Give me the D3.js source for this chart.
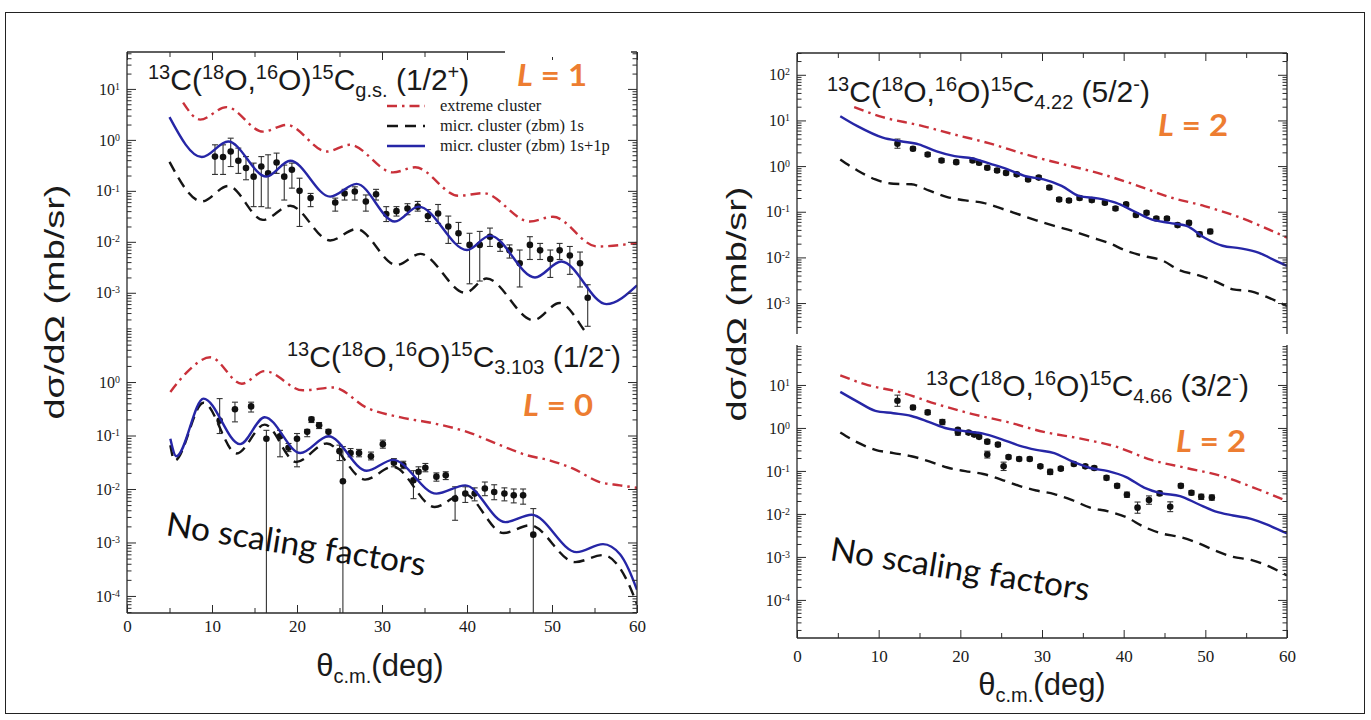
<!DOCTYPE html>
<html><head><meta charset="utf-8">
<script src="https://cdn.jsdelivr.net/npm/d3@7"></script>
<style>body{margin:0;background:#fff}svg{display:block}</style>
</head><body>
<svg id="c" width="1371" height="720"></svg>
<script>
// ---------- angular range and tick values ----------
const thetaDomain = [0, 60];
const thetaMajor = [0, 10, 20, 30, 40, 50, 60];
const thetaMinor = [5, 15, 25, 35, 45, 55];

// ---------- g.s. (1/2+), L = 1 ----------
const gsBlueT = [5.0, 8.8, 11.9, 16.4, 19.2, 23.9, 27.0, 31.5, 34.3, 40.0, 42.7, 48.0, 51.1, 56.4, 60];
const gsBlueV = [2.8, 0.46, 0.93, 0.19, 0.39, 0.077, 0.137, 0.025, 0.049, 0.0069, 0.0132, 0.0020, 0.0041, 0.0006, 0.0014];
const gsRedT = [6.6, 8.6, 11.7, 16.0, 18.8, 23.5, 26.2, 31.3, 33.9, 39.0, 41.9, 47.4, 50.1, 55.3, 60];
const gsRedV = [5.4, 2.5, 4.4, 1.45, 1.97, 0.59, 0.80, 0.23, 0.29, 0.080, 0.090, 0.025, 0.031, 0.0081, 0.0095];
const gsBlackT = [5.0, 8.8, 11.9, 16.0, 19.2, 23.9, 27.0, 31.7, 34.5, 39.8, 42.3, 47.8, 50.9, 54.8, 57, 60];
const gsBlackV = [0.37, 0.062, 0.125, 0.027, 0.051, 0.0106, 0.0178, 0.0035, 0.0058, 0.0010, 0.0019, 0.00029, 0.00063, 0.00012, 0.00008, 0.00015];
const gsPtT = [10.35, 11.3, 12.2, 13.1, 14.0, 14.9, 15.8, 16.6, 17.6, 18.5, 19.4, 20.3, 21.6, 24.5, 25.6, 26.8, 28.1, 29.3, 30.5, 31.7, 33.0, 34.2, 35.4, 36.6, 37.8, 39.0, 40.3, 41.5, 42.7, 43.9, 45.0, 46.2, 47.4, 48.6, 49.8, 50.9, 52.1, 53.3, 54.2];
const gsPtV = [0.47, 0.46, 0.59, 0.39, 0.28, 0.19, 0.30, 0.22, 0.36, 0.19, 0.26, 0.10, 0.072, 0.059, 0.089, 0.097, 0.062, 0.086, 0.035, 0.040, 0.045, 0.049, 0.032, 0.036, 0.020, 0.0147, 0.0087, 0.0087, 0.0126, 0.0087, 0.0068, 0.0038, 0.0087, 0.0068, 0.0046, 0.0068, 0.0054, 0.0038, 0.0008];
const gsPtHi = [0.80, 0.80, 1.08, 0.69, 0.47, 0.35, 0.47, 0.51, 0.55, 0.32, 0.35, 0.177, 0.089, 0.072, 0.107, 0.12, 0.083, 0.107, 0.049, 0.049, 0.056, 0.062, 0.043, 0.054, 0.032, 0.024, 0.0147, 0.016, 0.0186, 0.011, 0.0087, 0.0069, 0.0126, 0.0093, 0.0069, 0.0093, 0.0081, 0.0063, 0.00144];
const gsPtLo = [0.21, 0.21, 0.30, 0.22, 0.165, 0.049, 0.049, 0.046, 0.22, 0.066, 0.113, 0.020, 0.049, 0.040, 0.066, 0.066, 0.040, 0.066, 0.025, 0.032, 0.034, 0.040, 0.025, 0.023, 0.0093, 0.0093, 0.0015, 0.0017, 0.0081, 0.0065, 0.0048, 0.0013, 0.0045, 0.0045, 0.0020, 0.0045, 0.0023, 0.0013, 0.00022];

// ---------- 3.103 MeV (1/2-), L = 0 ----------
const s3BlueT = [5.1, 5.8, 9.0, 13.3, 16.2, 20.4, 23.7, 28.2, 31.3, 36.4, 39.8, 44.5, 47.6, 52.9, 56.0, 58.0, 59.0, 60];
const s3BlueV = [0.087, 0.041, 0.49, 0.069, 0.22, 0.047, 0.097, 0.022, 0.035, 0.0082, 0.0117, 0.0024, 0.0033, 0.00066, 0.00093, 0.00060, 0.00032, 0.00013];
const s3BlackT = [5.1, 5.6, 9.0, 12.9, 16.2, 19.9, 23.5, 28.0, 31.3, 36.2, 39.6, 44.3, 47.4, 52.7, 56.0, 58.0, 59.0, 60];
const s3BlackV = [0.066, 0.034, 0.41, 0.046, 0.16, 0.032, 0.071, 0.015, 0.026, 0.0046, 0.0082, 0.0015, 0.0021, 0.00043, 0.00058, 0.00033, 0.00017, 0.00007];
const s3RedT = [5.1, 7.0, 9.8, 13.5, 16.2, 20.7, 24.3, 28.2, 32.1, 36.0, 40.0, 43.9, 47.0, 49.8, 52.5, 55.6, 58.0, 60];
const s3RedV = [0.65, 1.5, 2.9, 0.93, 1.6, 0.70, 0.79, 0.33, 0.22, 0.17, 0.117, 0.066, 0.043, 0.034, 0.024, 0.0135, 0.0117, 0.0105];
const s3PtT = [10.9, 12.7, 14.6, 16.4, 18.0, 19.0, 20.0, 21.2, 21.7, 22.6, 23.7, 25.0, 25.4, 26.3, 27.3, 28.7, 30.1, 31.4, 32.5, 33.7, 34.3, 35.1, 36.4, 37.5, 38.6, 39.8, 40.9, 42.1, 43.2, 44.4, 45.5, 46.6, 47.8];
const s3PtV = [0.19, 0.31, 0.35, 0.087, 0.097, 0.059, 0.087, 0.117, 0.20, 0.155, 0.117, 0.051, 0.014, 0.047, 0.047, 0.041, 0.069, 0.031, 0.028, 0.0146, 0.021, 0.025, 0.017, 0.018, 0.0066, 0.0082, 0.0082, 0.0102, 0.0088, 0.0082, 0.0076, 0.0076, 0.0014];
const s3PtHi = [0.49, 0.42, 0.42, 0.125, 0.125, 0.071, 0.109, 0.13, 0.22, 0.175, 0.13, 0.066, 0.062, 0.057, 0.055, 0.049, 0.082, 0.037, 0.033, 0.022, 0.026, 0.030, 0.020, 0.021, 0.011, 0.011, 0.0105, 0.0135, 0.012, 0.0105, 0.010, 0.010, 0.0043];
const s3PtLo = [0.109, 0.18, 0.275, 1e-7, 0.040, 0.050, 0.026, 0.095, 0.175, 0.135, 0.095, 0.034, 1e-7, 0.040, 0.040, 0.035, 0.058, 0.026, 0.024, 0.0066, 0.015, 0.021, 0.014, 0.015, 0.0026, 0.0056, 0.0060, 0.0075, 0.0063, 0.0060, 0.0055, 0.0052, 1e-7];

// ---------- 4.22 MeV (5/2-), L = 2 ----------
const s4BlueT = [5.3, 7.4, 10.5, 12.7, 14.9, 17.1, 19.3, 21.5, 23.7, 25.8, 28.0, 30.2, 32.4, 34.6, 36.8, 39.0, 41.2, 43.4, 45.6, 47.7, 49.9, 52.1, 54.3, 56.5, 58.7, 60];
const s4BlueV = [12.4, 7.5, 4.2, 3.5, 3.0, 2.1, 1.65, 1.47, 1.12, 0.85, 0.60, 0.51, 0.37, 0.22, 0.196, 0.158, 0.104, 0.068, 0.057, 0.049, 0.027, 0.018, 0.0158, 0.0127, 0.0083, 0.0065];
const s4RedT = [7.0, 10.5, 14.9, 19.3, 23.7, 28.0, 32.4, 36.8, 41.2, 45.6, 49.9, 54.3, 60];
const s4RedV = [19.6, 11.8, 7.9, 4.9, 3.1, 1.8, 1.12, 0.71, 0.40, 0.21, 0.133, 0.074, 0.027];
const s4BlackT = [5.3, 7.4, 9.6, 11.8, 14.0, 16.2, 18.4, 20.6, 22.8, 25.0, 27.2, 29.3, 31.5, 33.7, 35.9, 38.1, 40.3, 42.5, 44.7, 46.9, 49.1, 51.2, 53.4, 55.6, 57.8, 60];
const s4BlackV = [1.40, 0.80, 0.51, 0.41, 0.40, 0.29, 0.21, 0.177, 0.157, 0.118, 0.087, 0.065, 0.049, 0.038, 0.028, 0.021, 0.014, 0.0107, 0.0086, 0.0052, 0.0041, 0.0030, 0.0020, 0.0018, 0.0013, 0.00086];
const s4PtT = [12.3, 14.2, 16.0, 17.7, 19.5, 21.5, 22.3, 23.3, 24.5, 25.6, 26.9, 28.3, 29.6, 30.9, 32.1, 33.3, 34.6, 36.1, 37.7, 39.0, 40.3, 41.5, 42.8, 44.0, 45.3, 46.6, 48.0, 49.3, 50.6];
const s4PtV = [3.1, 2.4, 1.8, 1.33, 1.22, 1.33, 1.18, 0.92, 0.80, 0.71, 0.66, 0.51, 0.56, 0.34, 0.186, 0.177, 0.20, 0.18, 0.158, 0.118, 0.145, 0.085, 0.095, 0.071, 0.071, 0.051, 0.057, 0.032, 0.037];
const s4PtErr = [1.26, 1.1, 1.1, 1.1, 1.1, 1.1, 1.1, 1.1, 1.1, 1.1, 1.1, 1.1, 1.1, 1.1, 1.1, 1.1, 1.1, 1.1, 1.1, 1.1, 1.1, 1.1, 1.1, 1.1, 1.1, 1.1, 1.1, 1.12, 1.12];

// ---------- 4.66 MeV (3/2-), L = 2 ----------
const s5BlueT = [5.3, 7.4, 9.6, 11.8, 14.0, 16.2, 18.4, 20.6, 22.8, 25.0, 27.2, 29.3, 31.5, 33.7, 35.9, 38.1, 40.3, 42.5, 44.7, 46.9, 49.1, 51.2, 53.4, 55.6, 57.8, 60];
const s5BlueV = [6.9, 4.1, 2.5, 2.2, 1.9, 1.37, 0.97, 0.84, 0.74, 0.55, 0.39, 0.31, 0.26, 0.166, 0.117, 0.099, 0.072, 0.041, 0.030, 0.026, 0.017, 0.0115, 0.0092, 0.0077, 0.0054, 0.0035];
const s5RedT = [5.3, 8.3, 12.7, 17.1, 21.5, 25.8, 30.2, 34.6, 39.0, 43.4, 47.7, 52.1, 56.5, 60];
const s5RedV = [16.7, 10.4, 6.7, 3.6, 2.1, 1.37, 0.81, 0.57, 0.37, 0.18, 0.117, 0.075, 0.037, 0.020];
const s5BlackT = [5.3, 7.4, 9.6, 11.8, 14.0, 16.2, 18.4, 20.6, 22.8, 25.0, 27.2, 29.3, 31.5, 33.7, 35.9, 38.1, 40.3, 42.5, 44.7, 46.9, 49.1, 51.2, 53.4, 55.6, 57.8, 60];
const s5BlackV = [0.78, 0.46, 0.31, 0.26, 0.22, 0.167, 0.12, 0.099, 0.085, 0.063, 0.045, 0.035, 0.029, 0.021, 0.014, 0.0115, 0.0084, 0.005, 0.0035, 0.0029, 0.0021, 0.0014, 0.0010, 0.00085, 0.0006, 0.00037];
const s5PtT = [12.3, 14.2, 16.0, 17.8, 19.7, 19.7, 21.0, 21.7, 22.3, 23.3, 23.3, 24.6, 25.3, 25.9, 27.2, 28.5, 29.8, 31.0, 32.3, 33.9, 35.3, 36.4, 37.9, 39.2, 40.4, 41.7, 43.1, 44.4, 45.7, 47.0, 48.3, 49.5, 50.8];
const s5PtV = [4.3, 3.0, 2.3, 1.37, 0.78, 0.90, 0.78, 0.70, 0.62, 0.48, 0.24, 0.41, 0.128, 0.21, 0.19, 0.19, 0.128, 0.095, 0.113, 0.145, 0.128, 0.117, 0.069, 0.045, 0.028, 0.014, 0.021, 0.030, 0.0147, 0.045, 0.031, 0.025, 0.024];
const s5PtErr = [1.35, 1.12, 1.12, 1.15, 1.15, 1.1, 1.1, 1.1, 1.1, 1.12, 1.2, 1.12, 1.25, 1.1, 1.1, 1.1, 1.1, 1.15, 1.1, 1.1, 1.1, 1.1, 1.12, 1.12, 1.15, 1.35, 1.25, 1.12, 1.3, 1.12, 1.12, 1.15, 1.15];

// legend entries
const legendLabels = ["extreme cluster", "micr. cluster (zbm) 1s", "micr. cluster (zbm) 1s+1p"];

// ---------- styles ----------
const C = {
  blue: "#2626a6", red: "#c9313a", black: "#151515", orange: "#ED7D31",
  axis: "#2a2a2a", text: "#1a1a1a"
};
const lineStyle = {
  red:   {stroke: C.red,   dash: "10,5,2.5,5", w: 2.4},
  black: {stroke: C.black, dash: "11,7",       w: 2.4},
  blue:  {stroke: C.blue,  dash: null,         w: 2.4}
};
const SANS = "'Liberation Sans', Arial, sans-serif";
const SERIF = "'Liberation Serif', 'Times New Roman', serif";
const CAL = "Lato, 'Open Sans', sans-serif";

const svg = d3.select("#c");
svg.append("rect").attr("x", 5.5).attr("y", 12.5).attr("width", 1359).attr("height", 701)
  .attr("fill", "#fff").attr("stroke", "#222").attr("stroke-width", 1);

// ---------- panel frames ----------
const panels = {
  gs: {x0: 127, x1: 637, y0: 52,  y1: 332, lo: 1.7e-4, hi: 53,  top: true,  bottom: false},
  s3: {x0: 127, x1: 637, y0: 331, y1: 613, lo: 4.8e-5, hi: 9,   top: false, bottom: true},
  s4: {x0: 797, x1: 1287, y0: 53, y1: 334, lo: 2.1e-4, hi: 300, top: true,  bottom: false},
  s5: {x0: 797, x1: 1287, y0: 345, y1: 638, lo: 1.3e-5, hi: 85, top: false, bottom: true}
};

function scalesFor(p) {
  return {
    xs: d3.scaleLinear().domain(thetaDomain).range([p.x0, p.x1]),
    ys: d3.scaleLog().domain([p.lo, p.hi]).range([p.y1, p.y0])
  };
}

function styleAxis(g, fontSize) {
  g.attr("font-family", SERIF).attr("font-size", fontSize).attr("color", C.axis);
  g.select(".domain").remove();
  g.selectAll(".tick line").attr("stroke-width", 1);
}

function drawAxes(key) {
  const p = panels[key];
  const {xs, ys} = scalesFor(p);
  const major = [], minor = [];
  for (let d = Math.floor(Math.log10(p.lo)); d <= Math.ceil(Math.log10(p.hi)); d++) {
    for (let m = 1; m <= 9; m++) {
      const v = m * Math.pow(10, d);
      if (v < p.lo || v > p.hi) continue;
      (m === 1 ? major : minor).push(v);
    }
  }
  // left axis: inward ticks, power-of-ten labels
  const gl = svg.append("g").attr("transform", `translate(${p.x0},0)`);
  gl.call(d3.axisLeft(ys).tickValues(minor).tickSize(-4.5).tickFormat(""));
  styleAxis(gl, 15);
  const glm = svg.append("g").attr("transform", `translate(${p.x0},0)`);
  glm.call(d3.axisLeft(ys).tickValues(major).tickSize(-9).tickPadding(7));
  styleAxis(glm, 16);
  glm.selectAll(".tick text").attr("fill", C.text).each(function (d) {
    const t = d3.select(this).text("");
    t.append("tspan").text("10");
    t.append("tspan").attr("dy", "-0.5em").attr("font-size", "0.62em").text(Math.round(Math.log10(d)));
  });
  // right axis: inward ticks, no labels
  const gr = svg.append("g").attr("transform", `translate(${p.x1},0)`);
  gr.call(d3.axisRight(ys).tickValues(minor).tickSize(-4.5).tickFormat(""));
  styleAxis(gr, 15);
  const grm = svg.append("g").attr("transform", `translate(${p.x1},0)`);
  grm.call(d3.axisRight(ys).tickValues(major).tickSize(-9).tickFormat(""));
  styleAxis(grm, 15);
  if (p.top) {
    const gt = svg.append("g").attr("transform", `translate(0,${p.y0})`);
    gt.call(d3.axisTop(xs).tickValues(thetaMajor).tickSize(-8).tickFormat(""));
    styleAxis(gt, 15);
    const gt2 = svg.append("g").attr("transform", `translate(0,${p.y0})`);
    gt2.call(d3.axisTop(xs).tickValues(thetaMinor).tickSize(-5).tickFormat(""));
    styleAxis(gt2, 15);
  }
  if (p.bottom) {
    const gb = svg.append("g").attr("transform", `translate(0,${p.y1})`);
    gb.call(d3.axisBottom(xs).tickValues(thetaMajor).tickSize(-8).tickPadding(key === "s5" ? 12 : 7).tickFormat(d3.format("d")));
    styleAxis(gb, 17);
    gb.selectAll(".tick text").attr("fill", C.text);
    const gb2 = svg.append("g").attr("transform", `translate(0,${p.y1})`);
    gb2.call(d3.axisBottom(xs).tickValues(thetaMinor).tickSize(-5).tickFormat(""));
    styleAxis(gb2, 15);
  }
}

function frameLines(x0, x1, y0, y1, top, bottom) {
  const g = svg.append("g").attr("stroke", C.axis).attr("stroke-width", 1.3).attr("fill", "none");
  g.append("line").attr("x1", x0).attr("x2", x0).attr("y1", y0).attr("y2", y1);
  g.append("line").attr("x1", x1).attr("x2", x1).attr("y1", y0).attr("y2", y1);
  if (top) g.append("line").attr("x1", x0).attr("x2", x1).attr("y1", y0).attr("y2", y0);
  if (bottom) g.append("line").attr("x1", x0).attr("x2", x1).attr("y1", y1).attr("y2", y1);
}

// ---------- series ----------
const defs = svg.append("defs");
function drawPanel(key, curves, pts) {
  const p = panels[key];
  const {xs, ys} = scalesFor(p);
  defs.append("clipPath").attr("id", "clip-" + key)
    .append("rect").attr("x", p.x0).attr("y", p.y0).attr("width", p.x1 - p.x0).attr("height", p.y1 - p.y0);
  const g = svg.append("g").attr("clip-path", `url(#clip-${key})`);
  const line = d3.line().x(d => xs(d[0])).y(d => ys(d[1])).curve(d3.curveMonotoneX);
  // error bars and data points
  const pg = g.append("g");
  pts.t.forEach((t, i) => {
    const cx = xs(t);
    const yHi = ys(pts.hi[i]), yLo = ys(pts.lo[i]);
    pg.append("line").attr("x1", cx).attr("x2", cx).attr("y1", yHi).attr("y2", yLo)
      .attr("stroke", "#333").attr("stroke-width", 1.1);
    [yHi, yLo].forEach(yy => pg.append("line").attr("x1", cx - 3).attr("x2", cx + 3)
      .attr("y1", yy).attr("y2", yy).attr("stroke", "#333").attr("stroke-width", 1.1));
    pg.append("circle").attr("cx", cx).attr("cy", ys(pts.v[i])).attr("r", 3.3).attr("fill", "#111");
  });
  curves.forEach(c => {
    const st = lineStyle[c.style];
    g.append("path").datum(d3.zip(c.t, c.v)).attr("d", line)
      .attr("fill", "none").attr("stroke", st.stroke).attr("stroke-width", st.w)
      .attr("stroke-dasharray", st.dash).attr("stroke-linejoin", "round");
  });
}

drawPanel("gs", [
  {style: "red", t: gsRedT, v: gsRedV},
  {style: "black", t: gsBlackT, v: gsBlackV},
  {style: "blue", t: gsBlueT, v: gsBlueV}
], {t: gsPtT, v: gsPtV, hi: gsPtHi, lo: gsPtLo});
drawPanel("s3", [
  {style: "red", t: s3RedT, v: s3RedV},
  {style: "black", t: s3BlackT, v: s3BlackV},
  {style: "blue", t: s3BlueT, v: s3BlueV}
], {t: s3PtT, v: s3PtV, hi: s3PtHi, lo: s3PtLo});
drawPanel("s4", [
  {style: "red", t: s4RedT, v: s4RedV},
  {style: "black", t: s4BlackT, v: s4BlackV},
  {style: "blue", t: s4BlueT, v: s4BlueV}
], {t: s4PtT, v: s4PtV, hi: s4PtV.map((v, i) => v * s4PtErr[i]), lo: s4PtV.map((v, i) => v / s4PtErr[i])});
drawPanel("s5", [
  {style: "red", t: s5RedT, v: s5RedV},
  {style: "black", t: s5BlackT, v: s5BlackV},
  {style: "blue", t: s5BlueT, v: s5BlueV}
], {t: s5PtT, v: s5PtV, hi: s5PtV.map((v, i) => v * s5PtErr[i]), lo: s5PtV.map((v, i) => v / s5PtErr[i])});

Object.keys(panels).forEach(drawAxes);
frameLines(127, 637, 52, 613, true, true);
frameLines(797, 1287, 53, 334, true, false);
frameLines(797, 1287, 345, 638, false, true);

// ---------- reaction labels ----------
function reaction(x, y, sub, spin, par) {
  const parts = [["13", "sup"], ["C(", ""], ["18", "sup"], ["O,", ""], ["16", "sup"], ["O)", ""],
    ["15", "sup"], ["C", ""], [sub, "sub"], [" (" + spin, ""], [par, "sup"], [")", ""]];
  const t = svg.append("text").attr("x", x).attr("y", y).attr("font-family", SANS)
    .attr("font-size", 30).attr("fill", C.text).attr("xml:space", "preserve");
  let off = 0;
  parts.forEach(([s, k]) => {
    const target = k === "sup" ? -11 : k === "sub" ? 7 : 0;
    t.append("tspan").attr("dy", target - off).attr("font-size", k ? 20 : 30).text(s);
    off = target;
  });
}
reaction(148, 90, "g.s.", "1/2", "+");
reaction(287, 367, "3.103", "1/2", "-");
reaction(827, 102, "4.22", "5/2", "-");
reaction(926, 396, "4.66", "3/2", "-");

// white patch under the L = 1 label interrupts the top frame
svg.append("rect").attr("x", 505).attr("y", 45).attr("width", 126).attr("height", 12).attr("fill", "#fff");

function lLabel(x, y, n) {
  const t = svg.append("text").attr("x", x).attr("y", y).attr("font-family", CAL)
    .attr("font-weight", 700).attr("font-size", 31).attr("fill", C.orange)
    .attr("textLength", 70).attr("lengthAdjust", "spacingAndGlyphs");
  t.append("tspan").attr("font-style", "italic").text("L");
  t.append("tspan").text(" = " + n);
}
lLabel(517, 86, 1);
lLabel(523, 416, 0);
lLabel(1158, 136, 2);
lLabel(1176, 452, 2);

// ---------- legend ----------
const legendKeys = ["red", "black", "blue"];
const leg = svg.append("g");
legendKeys.forEach((k, i) => {
  const yy = 106 + i * 20;
  const st = lineStyle[k];
  leg.append("line").attr("x1", 387).attr("x2", 425).attr("y1", yy).attr("y2", yy)
    .attr("stroke", st.stroke).attr("stroke-width", st.w).attr("stroke-dasharray", st.dash);
  leg.append("text").attr("x", 440).attr("y", yy + 5).attr("font-family", SERIF)
    .attr("font-size", 16.5).attr("fill", C.text).text(legendLabels[i]);
});

// ---------- annotations ----------
function noScaling(x, y) {
  svg.append("text").attr("transform", `translate(${x},${y}) rotate(9)`)
    .attr("font-family", CAL).attr("font-size", 33).attr("fill", "#111")
    .attr("textLength", 262).attr("lengthAdjust", "spacingAndGlyphs").text("No scaling factors");
}
noScaling(165, 535);
noScaling(829, 560);

// ---------- axis titles ----------
function yTitle(x, y) {
  svg.append("text").attr("transform", `translate(${x},${y}) rotate(-90)`)
    .attr("text-anchor", "middle").attr("font-family", SANS).attr("font-size", 27)
    .attr("fill", C.text).attr("textLength", 235).attr("lengthAdjust", "spacingAndGlyphs")
    .text("dσ/dΩ (mb/sr)");
}
yTitle(64, 302);
yTitle(746, 304);

function xTitle(cx, y) {
  const t = svg.append("text").attr("x", cx).attr("y", y).attr("text-anchor", "middle")
    .attr("font-family", SANS).attr("font-size", 31).attr("fill", C.text);
  t.append("tspan").text("θ");
  t.append("tspan").attr("dy", 7).attr("font-size", 20).text("c.m.");
  t.append("tspan").attr("dy", -7).text("(deg)");
}
xTitle(380, 676);
xTitle(1042, 695);
</script>
</body></html>
